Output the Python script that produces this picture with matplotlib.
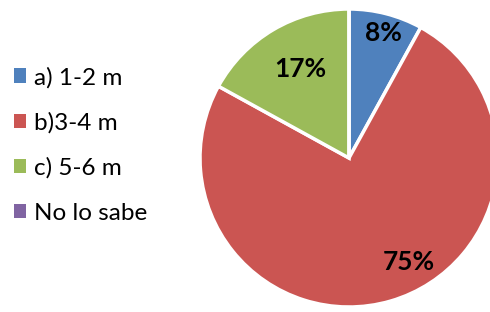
import matplotlib
matplotlib.use("Agg")
import matplotlib.pyplot as plt
from matplotlib.patches import Patch

# Datos del gráfico
categorias = ["a) 1-2 m", "b)3-4 m", "c) 5-6 m", "No lo sabe"]
porcentajes = [8, 75, 17, 0]
colores = ["#4F81BD", "#CB5552", "#9BBB59", "#8064A2"]
etiquetas = ["8%", "75%", "17%", ""]

# posiciones de las etiquetas (estilo "mejor ajuste" de Excel), en unidades del radio
pos_etiquetas = [(0.23, 0.84), (0.40, -0.70), (-0.33, 0.60), (0, 0)]

plt.rcParams["font.family"] = ["Lato", "DejaVu Sans"]

fig = plt.figure(figsize=(4.9, 3.12), dpi=100)
W, H = 490, 312
cx, cy, r = 349, 158, 149
ax = fig.add_axes([(cx - r) / W, (H - cy - r) / H, 2 * r / W, 2 * r / H])

wedges, _ = ax.pie(porcentajes, colors=colores, startangle=90, counterclock=False,
                   radius=1, wedgeprops=dict(edgecolor="white", linewidth=2.5))
for w, lab, (x, y) in zip(wedges, etiquetas, pos_etiquetas):
    if lab:
        ax.text(x, y, lab, ha="center", va="center", fontsize=19,
                fontweight="bold", color="black")
ax.set_xlim(-1.0, 1.0)
ax.set_ylim(-1.0, 1.0)
ax.set_aspect("equal")
ax.axis("off")

handles = [Patch(facecolor=c, edgecolor="none") for c in colores]
fig.legend(handles, categorias, loc="center left", bbox_to_anchor=(0.028, 0.535),
           frameon=False, fontsize=17.5, handlelength=0.52, handleheight=0.52,
           handletextpad=0.3, labelspacing=0.98, borderpad=0, borderaxespad=0)

fig.savefig("out.png", dpi=100)
